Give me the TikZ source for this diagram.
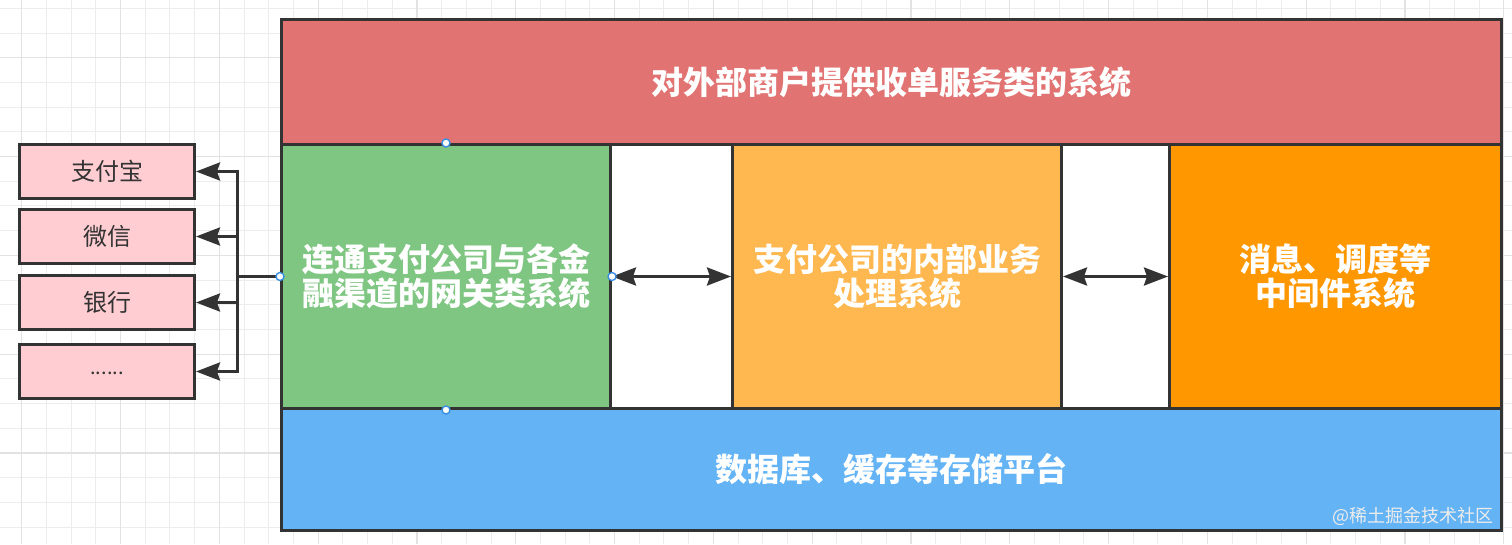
\documentclass[tikz,border=0pt]{standalone}
\usepackage{fontspec}
\newfontfamily\cjk{Noto Sans CJK SC}
\usetikzlibrary{arrows.meta,calc}
\definecolor{gridminor}{HTML}{EDEDED}
\definecolor{gridmajor}{HTML}{E2E2E2}
\definecolor{cred}{HTML}{E27373}
\definecolor{cgreen}{HTML}{80C683}
\definecolor{clorange}{HTML}{FFB74F}
\definecolor{corange}{HTML}{FF9800}
\definecolor{cblue}{HTML}{64B4F5}
\definecolor{cpink}{HTML}{FFCDD2}
\definecolor{edge}{HTML}{333333}
\definecolor{handle}{HTML}{3A8EE0}
\tikzset{
  blk/.style={draw=edge, line width=3pt, anchor=north west, inner sep=0pt,
    align=center, text=white, font=\cjk\bfseries\fontsize{32}{38}\selectfont},
  side/.style={draw=edge, line width=3pt, anchor=north west, fill=cpink,
    minimum width=175pt, minimum height=54pt, inner sep=0pt,
    text=edge, font=\cjk\fontsize{24}{28}\selectfont},
  conn/.style={draw=edge, line width=3pt},
  tip/.style={-{Stealth[length=24pt,width=18pt,inset=3pt]}},
  tips/.style={{Stealth[length=24pt,width=18pt,inset=3pt]}-{Stealth[length=24pt,width=18pt,inset=3pt]}},
  hdl/.style={circle, draw=handle, line width=1.4pt, fill=white, inner sep=0pt, minimum size=8pt}
}
\begin{document}
\begin{tikzpicture}[x=1pt,y=-1pt]
\useasboundingbox (0,0) rectangle (1512,544);
\fill[white] (0,0) rectangle (1512,544);
% grid
\foreach \k in {0,...,60} {\draw[gridminor, line width=1pt] ({21.7+\k*24.7},0) -- ({21.7+\k*24.7},544);}
\foreach \k in {0,...,21} {\draw[gridminor, line width=1pt] (0,{8.3+\k*24.7}) -- (1512,{8.3+\k*24.7});}
\foreach \k in {0,4,...,60} {\draw[gridmajor, line width=1.2pt] ({21.7+\k*24.7},0) -- ({21.7+\k*24.7},544);}
\foreach \k in {2,6,...,18} {\draw[gridmajor, line width=1.2pt] (0,{8.3+\k*24.7}) -- (1512,{8.3+\k*24.7});}
% main blocks
\node[blk, fill=white, minimum width=1220pt, minimum height=264pt] (mid) at (280,143) {};
\node[blk, fill=cred, minimum width=1220pt, minimum height=125pt] (top) at (280,18) {对外部商户提供收单服务类的系统};
\node[blk, fill=cgreen, minimum width=329pt, minimum height=264pt] (gw) at (280,143) {\raisebox{-5pt}{\shortstack{连通支付公司与各金\\融渠道的网关类系统}}};
\node[blk, fill=clorange, minimum width=329pt, minimum height=264pt] (biz) at (731,143) {\raisebox{-5pt}{\shortstack{支付公司的内部业务\\处理系统}}};
\node[blk, fill=corange, minimum width=332pt, minimum height=264pt] (mw) at (1168,143) {\raisebox{-5pt}{\shortstack{消息、调度等\\中间件系统}}};
\node[blk, fill=cblue, minimum width=1220pt, minimum height=122pt] (db) at (280,407) {数据库、缓存等存储平台};
% side boxes
\node[side] (b1) at (18,143) {支付宝};
\node[side] (b2) at (18,208) {微信};
\node[side] (b3) at (18,274) {银行};
\node[side] (b4) at (18,343) {\fontsize{20}{24}\selectfont\raisebox{-6pt}{......}};
% connectors
\coordinate (j) at ($(gw.west)+(-43,0)$);
\draw[conn] (gw.west) -- (j);
\draw[conn, tip] (j) |- (b1.east);
\draw[conn, tip] (j) |- (b2.east);
\draw[conn, tip] (j) |- (b3.east);
\draw[conn, tip] (j) |- (b4.east);
\draw[conn, tips] (gw.east) -- (biz.west);
\draw[conn, tips] (biz.east) -- (mw.west);
% selection handles
\node[hdl] (h1) at (gw.north) {};
\node[hdl] (h2) at (gw.south) {};
\node[hdl] (h3) at (gw.west) {};
\node[hdl] (h4) at (gw.east) {};
% watermark
\node[anchor=east, text=white!85!gray, font=\cjk\fontsize{18}{20}\selectfont, inner sep=0pt] (wm) at (1494,516) {@稀土掘金技术社区};
\end{tikzpicture}
\end{document}
